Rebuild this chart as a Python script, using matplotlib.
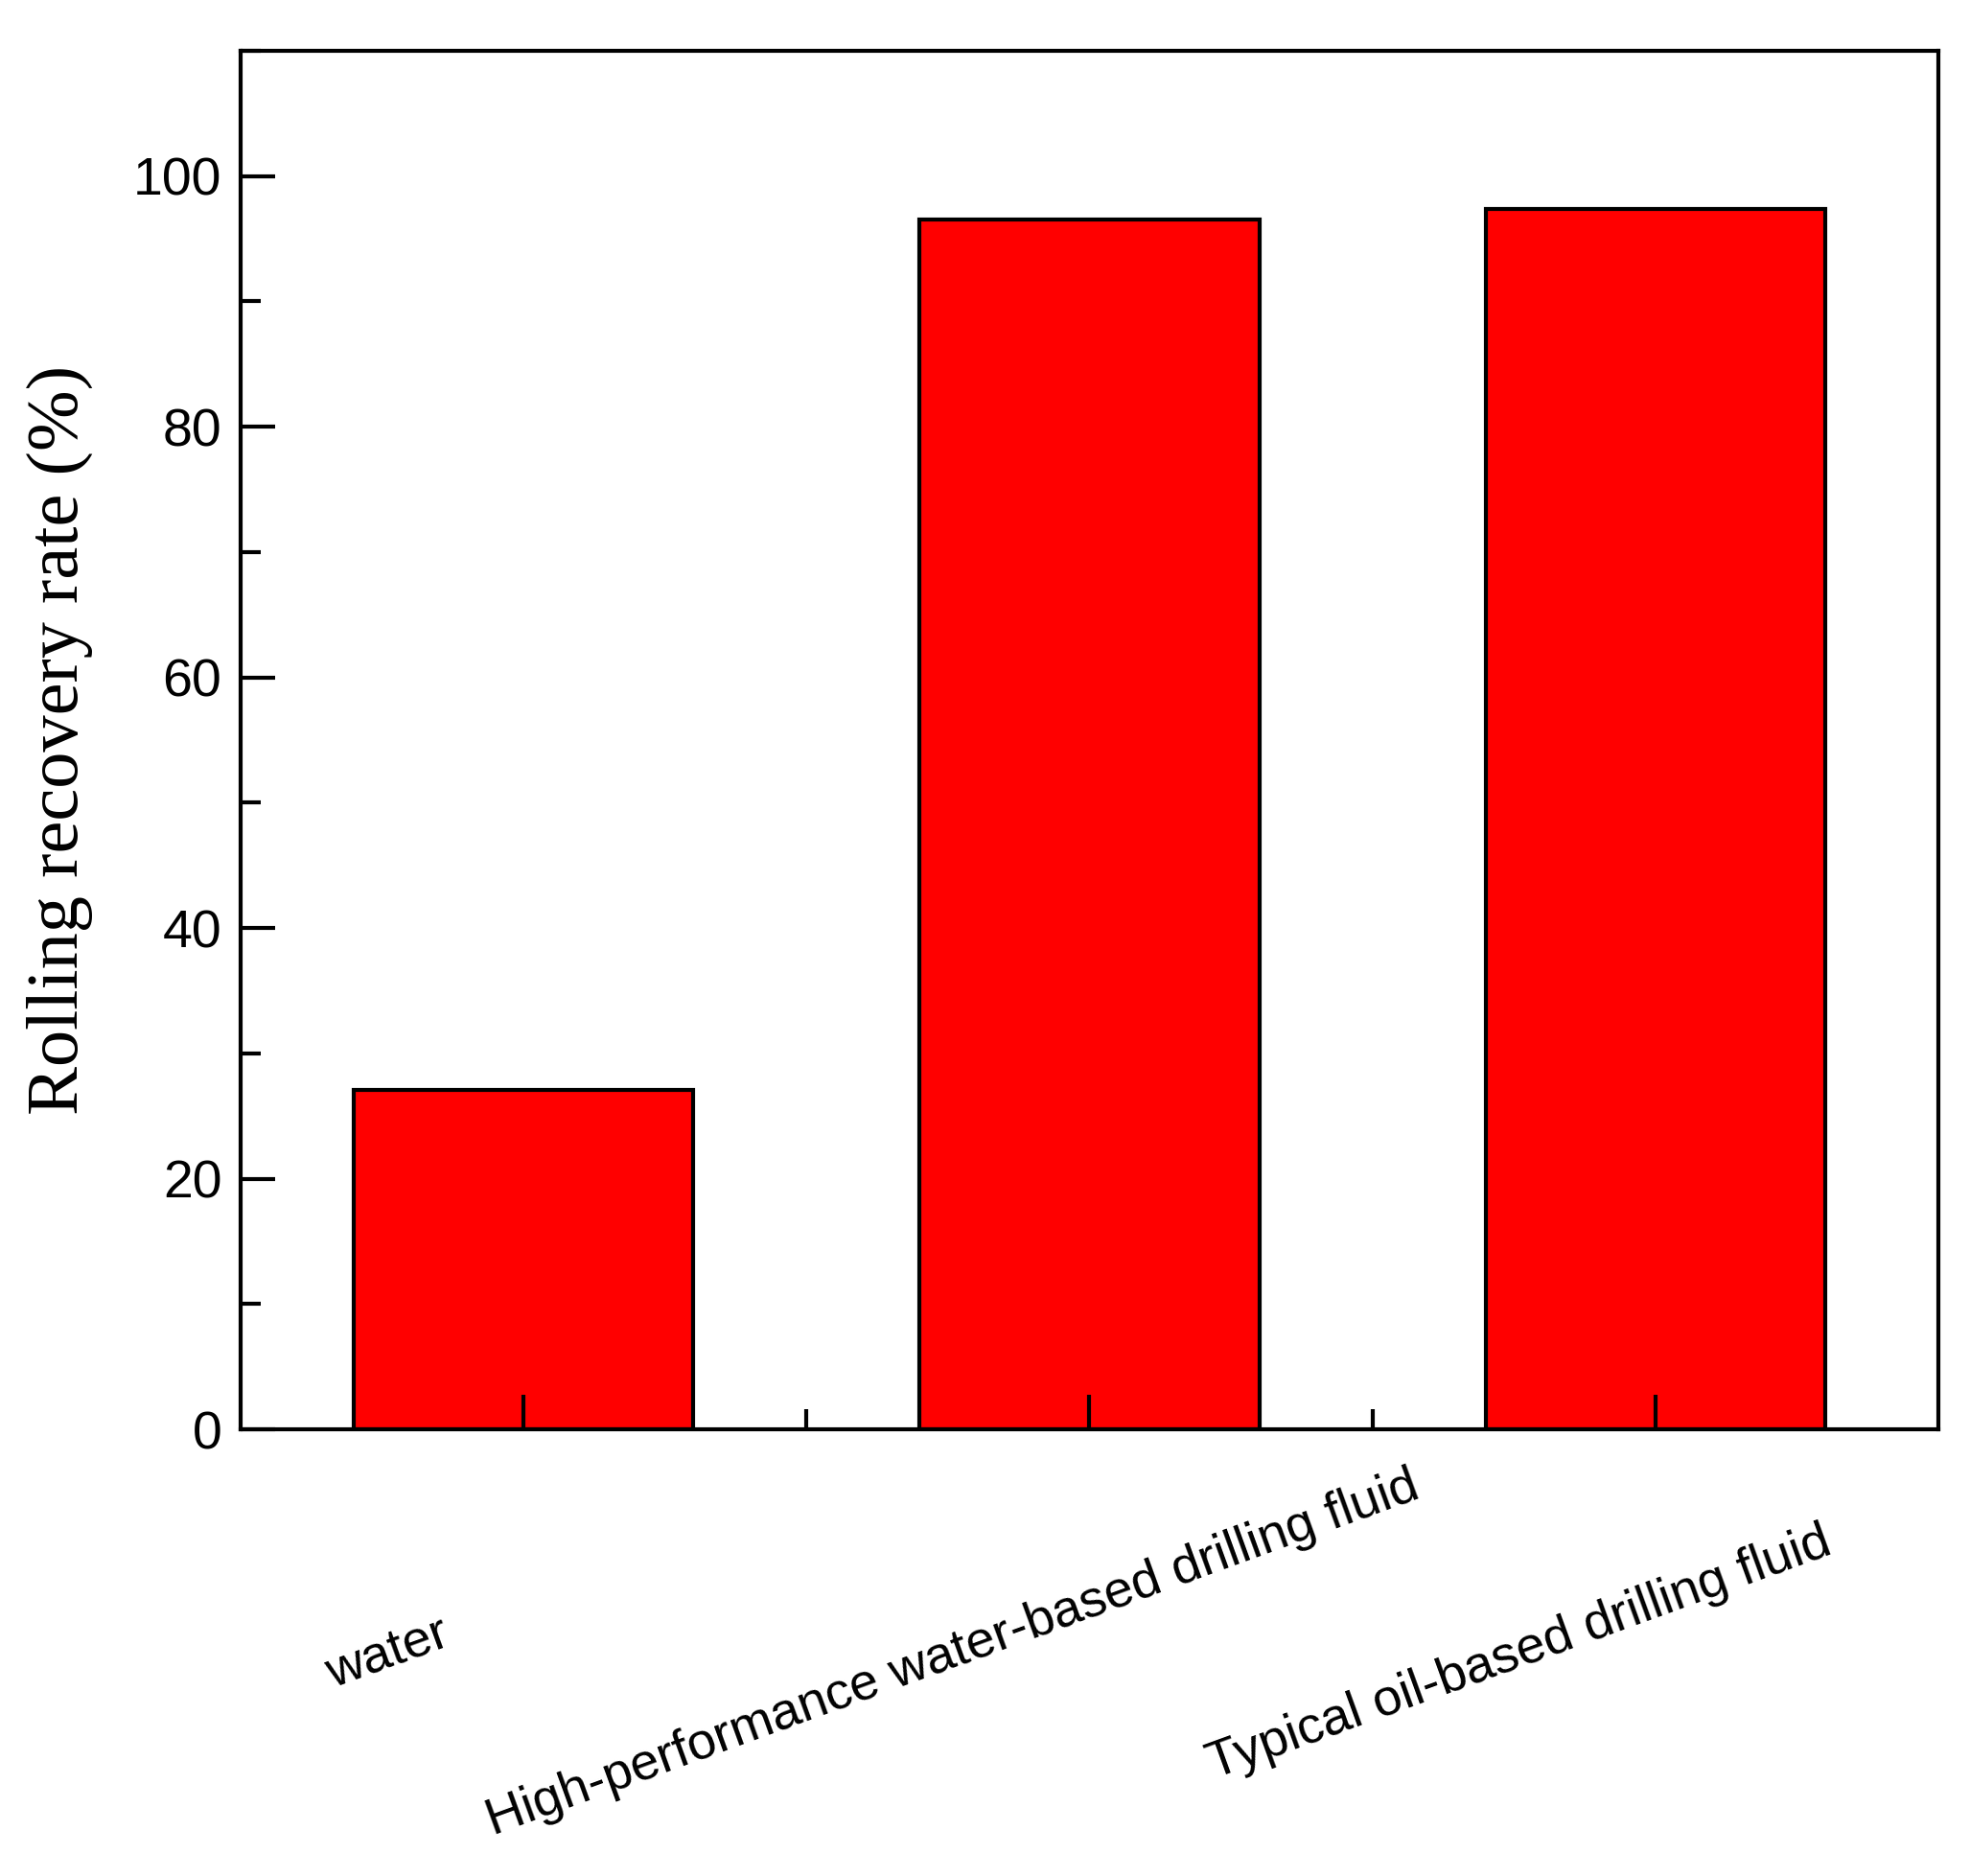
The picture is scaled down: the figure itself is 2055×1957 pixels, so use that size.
import matplotlib
matplotlib.use("Agg")
import matplotlib.pyplot as plt
from matplotlib.ticker import MultipleLocator
import matplotlib.transforms as mt

categories = ["water", "High-performance water-based drilling fluid", "Typical oil-based drilling fluid"]
values = [27.1, 96.5, 97.4]

fig = plt.figure(figsize=(20.55, 19.57), dpi=100)
ax = fig.add_axes([0.122, 0.238, 0.862, 0.735])
x = [1, 2, 3]
ax.bar(x, values, width=0.6, color="#ff0000", edgecolor="black", linewidth=3, zorder=1)
ax.set_xlim(0.5, 3.5)
ax.set_ylim(0, 110)
ax.yaxis.set_major_locator(MultipleLocator(20))
ax.yaxis.set_minor_locator(MultipleLocator(10))
ax.set_xticks(x)
ax.set_xticks([1.5, 2.5], minor=True)
ax.tick_params(axis="both", which="both", direction="in", width=3, zorder=3)
ax.tick_params(which="major", length=26)
ax.tick_params(which="minor", length=15)
ax.tick_params(axis="y", labelsize=40, pad=14)
for lab in ax.get_yticklabels():
    lab.set_family("Liberation Sans")
ax.set_xticklabels([])
for s in ax.spines.values():
    s.set_linewidth(3)
    s.set_zorder(4)
off = mt.ScaledTranslation(-142/100, -234/100, fig.dpi_scale_trans)
tr = mt.blended_transform_factory(ax.transData, ax.transAxes) + off
for xi, c in zip(x, categories):
    ax.text(xi, 0, c, transform=tr, rotation=20, ha="center", va="center",
            rotation_mode="anchor", fontsize=39, family="Liberation Sans")
ax.set_ylabel("Rolling recovery rate (%)", fontsize=55, family="Liberation Serif", labelpad=30)
fig.savefig("out.png", dpi=100)
